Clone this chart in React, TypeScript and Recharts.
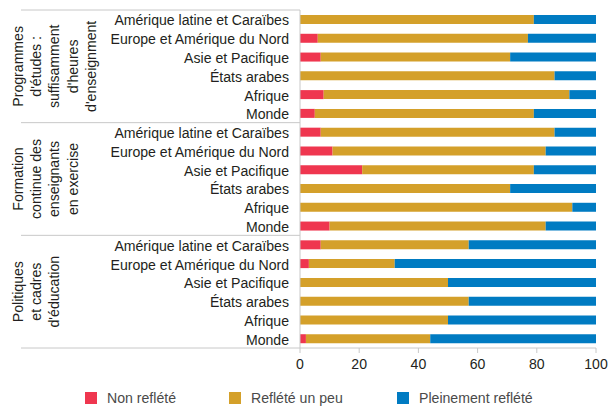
import React from "react";
import { BarChart, Bar, XAxis, YAxis, Legend } from "recharts";

const regions = [
  "Amérique latine et Caraïbes",
  "Europe et Amérique du Nord",
  "Asie et Pacifique",
  "États arabes",
  "Afrique",
  "Monde",
];

const groupLabels = [
  ["Programmes", "d'études :", "suffisamment", "d'heures", "d'enseignment"],
  ["Formation", "continue des", "enseignants", "en exercise"],
  ["Politiques", "et cadres", "d'éducation"],
];

const nonReflete = [0, 6, 7, 0, 8, 5, 7, 11, 21, 0, 0, 10, 7, 3, 0, 0, 0, 2];
const refleteUnPeu = [79, 71, 64, 86, 83, 74, 79, 72, 58, 71, 92, 73, 50, 29, 50, 57, 50, 42];
const pleinement = [21, 23, 29, 14, 9, 21, 14, 17, 21, 29, 8, 17, 43, 68, 50, 43, 50, 56];

const xTicks = [0, 20, 40, 60, 80, 100];

const seriesNames = ["Non reflété", "Reflété un peu", "Pleinement reflété"];
const colors = ["#EF364F", "#D4A02A", "#007BC2"];

const data = nonReflete.map((v, i) => ({
  key: `g${Math.floor(i / regions.length)}-${i % regions.length}`,
  non: v,
  peu: refleteUnPeu[i],
  plein: pleinement[i],
}));

const FONT = "'Liberation Sans', Arial, sans-serif";
const FS = 15.5;
const SX = 0.91;
const TEXT = "#231f20";
const GRID = "#c8c8c8";

function YTick(props: any) {
  const { x, y, payload, index } = props;
  const i = typeof index === "number" ? index : data.findIndex((d) => d.key === payload.value);
  const half = payload && payload.offset ? payload.offset : 9.39;
  const axisX = x + 11;
  const r = i % regions.length;
  const g = Math.floor(i / regions.length);
  const items: any[] = [];
  items.push(
    <g key="t" transform={`translate(${x}, ${y + 6}) scale(${SX}, 1)`}>
      <text x={0} y={0} textAnchor="end" fontFamily={FONT} fontSize={FS} fill={TEXT}>
        {regions[r]}
      </text>
    </g>
  );
  if (r === 0) {
    const top = y - half;
    const cy = top + half * regions.length;
    items.push(<line key="s" x1={21} x2={axisX} y1={top} y2={top} stroke={GRID} strokeWidth={1} />);
    items.push(
      <g key="gl" transform={`translate(22.5, ${cy}) rotate(-90) scale(${SX}, 1)`}>
        <text x={0} y={0} textAnchor="middle" fontFamily={FONT} fontSize={FS} fill={TEXT}>
          {groupLabels[g].map((l, k) => (
            <tspan key={k} x={0} dy={k === 0 ? 0 : 18.5}>
              {l}
            </tspan>
          ))}
        </text>
      </g>
    );
  }
  if (i === data.length - 1) {
    items.push(<line key="b" x1={21} x2={axisX} y1={y + half} y2={y + half} stroke={GRID} strokeWidth={1} />);
  }
  return <g>{items}</g>;
}

function XTick(props: any) {
  const { x, y, payload } = props;
  return (
    <g transform={`translate(${x}, ${y + 15.5}) scale(${SX}, 1)`}>
      <text x={0} y={0} textAnchor="middle" fontFamily={FONT} fontSize={FS} fill={TEXT}>
        {payload.value}
      </text>
    </g>
  );
}

function LegendContent() {
  const pos = [85, 229, 397];
  return (
    <div style={{ position: "relative", height: 40, width: 608 }}>
      {seriesNames.map((n, k) => (
        <div key={n} style={{ position: "absolute", left: pos[k], top: 24, height: 16, display: "flex", alignItems: "center", whiteSpace: "nowrap" }}>
          <span style={{ display: "inline-block", width: 12, height: 12, background: colors[k], marginRight: 10 }} />
          <span
            style={{
              display: "inline-block",
              fontFamily: FONT,
              fontSize: FS,
              lineHeight: "16px",
              color: "#4a4a4a",
              transform: `scaleX(${SX})`,
              transformOrigin: "left center",
            }}
          >
            {n}
          </span>
        </div>
      ))}
    </div>
  );
}

export default function App() {
  return (
    <div style={{ position: "absolute", left: 0, top: 0, width: 608, height: 406, background: "#fff" }}>
      <BarChart
        width={608}
        height={406}
        data={data}
        layout="vertical"
        margin={{ top: 10, right: 12, bottom: 0, left: 0 }}
        barSize={9}
      >
        <XAxis
          type="number"
          domain={[0, 100]}
          ticks={xTicks}
          height={18}
          stroke={GRID}
          tickSize={5}
          tickLine={{ stroke: GRID }}
          axisLine={{ stroke: GRID }}
          tick={<XTick />}
          tickMargin={0}
          interval={0}
        />
        <YAxis
          type="category"
          dataKey="key"
          width={300}
          tickSize={0}
          tickMargin={11}
          tickLine={false}
          axisLine={{ stroke: GRID }}
          interval={0}
          tick={<YTick />}
        />
        <Legend verticalAlign="bottom" height={40} content={<LegendContent />} />
        <Bar dataKey="non" name={seriesNames[0]} stackId="a" fill={colors[0]} isAnimationActive={false} />
        <Bar dataKey="peu" name={seriesNames[1]} stackId="a" fill={colors[1]} isAnimationActive={false} />
        <Bar dataKey="plein" name={seriesNames[2]} stackId="a" fill={colors[2]} isAnimationActive={false} />
      </BarChart>
    </div>
  );
}
